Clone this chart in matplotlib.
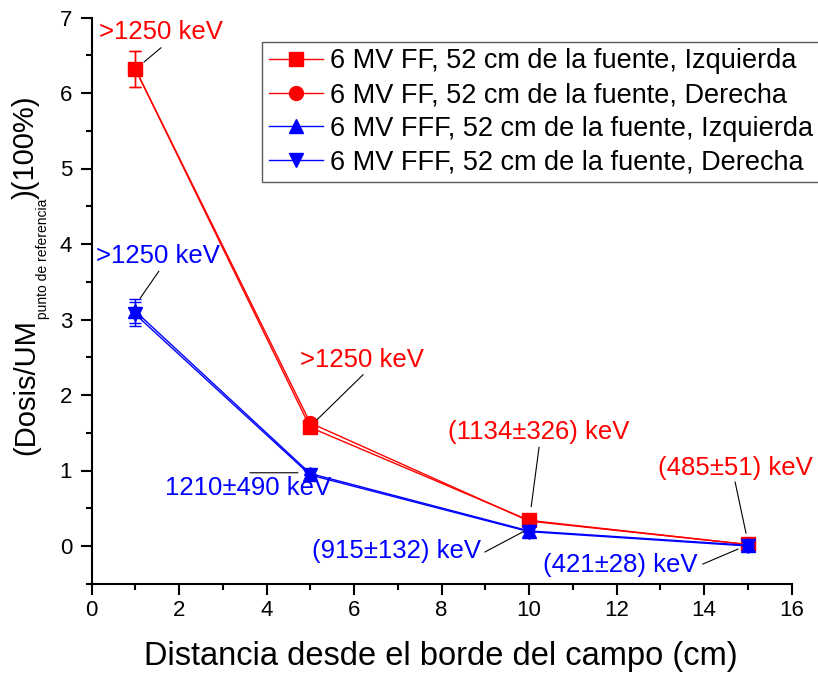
import matplotlib
matplotlib.use("Agg")
import matplotlib.pyplot as plt
from matplotlib.ticker import MultipleLocator

plt.rcParams['font.family'] = ['Liberation Sans', 'DejaVu Sans']

x = [1, 5, 10, 15]
ff_izq = [6.32, 1.57, 0.34, 0.02]
ff_der = [6.32, 1.63, 0.33, 0.02]
fff_izq = [3.11, 0.96, 0.20, 0.01]
fff_der = [3.07, 0.94, 0.19, 0.00]
ff_err = [0.24, 0, 0, 0]
fff_err = [0.16, 0, 0, 0]

labels = ["6 MV FF, 52 cm de la fuente, Izquierda",
          "6 MV FF, 52 cm de la fuente, Derecha",
          "6 MV FFF, 52 cm de la fuente, Izquierda",
          "6 MV FFF, 52 cm de la fuente, Derecha"]

# annotation text, colour, text centre, leader line start, leader line end (data units)
ann_text = [">1250 keV", ">1250 keV", ">1250 keV", "1210±490 keV",
            "(1134±326) keV", "(485±51) keV", "(915±132) keV", "(421±28) keV"]
ann_color = ['red', 'blue', 'red', 'blue', 'red', 'red', 'blue', 'blue']
ann_pos = [(1.58, 6.81), (1.52, 3.84), (6.17, 2.46), (3.58, 0.77),
           (10.22, 1.51), (14.71, 1.03), (6.98, -0.07), (12.08, -0.25)]
lead_start = [(1.59, 6.60), (1.54, 3.64), (6.21, 2.27), (3.62, 0.97),
              (10.23, 1.31), (14.71, 0.85), (8.99, -0.08), (13.97, -0.24)]
lead_end = [(1.20, 6.41), (1.11, 3.28), (5.15, 1.67), (4.72, 0.97),
            (10.05, 0.52), (14.96, 0.17), (9.87, 0.19), (14.78, -0.04)]

W, H = 818, 675
fig = plt.figure(figsize=(W / 100, H / 100), dpi=100)
ax = fig.add_axes([91.5 / W, 1 - 583.75 / H, 700 / W, 566.25 / H])

styles = [('red', 's', 9.5), ('red', 'o', 10), ('blue', '^', 10.5), ('blue', 'v', 10.5)]
series = [ff_izq, ff_der, fff_izq, fff_der]
errs = [ff_err, ff_err, fff_err, fff_err]
for ys, er, (c, m, ms), lab in zip(series, errs, styles, labels):
    ax.errorbar(x, ys, yerr=er, fmt='none', ecolor=c, elinewidth=1,
                capsize=4.5, capthick=1)
    ax.plot(x, ys, color=c, marker=m, ms=ms, lw=1, label=lab)

for txt, col, pos in zip(ann_text, ann_color, ann_pos):
    ax.text(pos[0], pos[1], txt, color=col, fontsize=18.5, ha='center', va='center')
for s, e in zip(lead_start, lead_end):
    ax.annotate('', xy=e, xytext=s,
                arrowprops=dict(arrowstyle='-', color='black', lw=0.8,
                                shrinkA=0, shrinkB=0))

ax.set_xlim(0, 16)
ax.set_ylim(-0.5, 7)
ax.xaxis.set_major_locator(MultipleLocator(2))
ax.xaxis.set_minor_locator(MultipleLocator(1))
ax.yaxis.set_major_locator(MultipleLocator(1))
ax.yaxis.set_minor_locator(MultipleLocator(0.5))
ax.spines['top'].set_visible(False)
ax.spines['right'].set_visible(False)
ax.spines['left'].set_linewidth(1.5)
ax.spines['bottom'].set_linewidth(1.5)
ax.tick_params(which='major', direction='out', length=8, width=1.5, labelsize=16)
ax.tick_params(which='minor', direction='out', length=4.3, width=1.5)
ax.tick_params(axis='x', which='major', pad=4)
ax.tick_params(axis='y', which='major', pad=6)

ax.set_xlabel("Distancia desde el borde del campo (cm)", fontsize=23.5)
ax.xaxis.set_label_coords((441 - 91.5) / 700, (583.75 - 641) / 566.25)
ax.xaxis.label.set_va('top')

leg = ax.legend(loc='upper left', bbox_to_anchor=(262 / W, 1 - 42 / H),
                bbox_transform=fig.transFigure, fontsize=19.5,
                frameon=True, fancybox=False, edgecolor='#333333',
                handlelength=2.0, handletextpad=0.28, borderpad=0.24,
                labelspacing=0.28, borderaxespad=0)
leg.get_frame().set_linewidth(1)

# y-axis label with a small subscript, composed from three rotated texts
r = fig.canvas.get_renderer()
y0 = (H - 455) / H
t1 = fig.text(26 / W, y0, "(Dosis/UM", rotation=90, fontsize=21,
              ha='center', va='bottom')
h1 = t1.get_window_extent(r).height / H
t2 = fig.text(43.5 / W, y0 + h1, "punto de referencia", rotation=90, fontsize=10,
              ha='center', va='bottom')
h2 = t2.get_window_extent(r).height / H
t3 = fig.text(26 / W, y0 + h1 + h2, ")(100%)", rotation=90, fontsize=21,
              ha='center', va='bottom')

fig.savefig("out.png", dpi=100)
